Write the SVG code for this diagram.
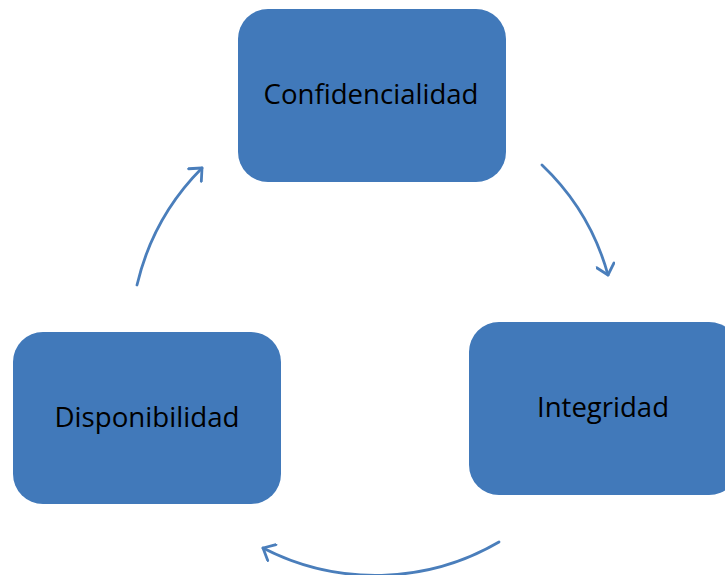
<svg xmlns="http://www.w3.org/2000/svg" width="725" height="575" viewBox="0 0 725 575">
  <style>
    .box { fill: #4179ba; }
    .label { font-family: "Open Sans", "Noto Sans", "Liberation Sans", sans-serif; font-size: 27.5px; fill: #000; text-anchor: middle; }
    .link { fill: none; stroke: #4a7ebb; stroke-width: 2.8; stroke-linecap: round; marker-end: url(#chev); }
  </style>
  <defs>
    <marker id="chev" viewBox="0 0 20 20" refX="16" refY="10" markerWidth="20" markerHeight="20" markerUnits="userSpaceOnUse" orient="auto">
      <path d="M6,1 L16,10 L6,19" fill="none" stroke="#4a7ebb" stroke-width="2.8" stroke-linecap="round" stroke-linejoin="round"/>
    </marker>
  </defs>
  <rect width="725" height="575" fill="#fff"/>

  <g id="confidencialidad">
    <rect class="box" x="238" y="9" width="268" height="173" rx="30"/>
    <text class="label" x="371" y="104" textLength="215" lengthAdjust="spacingAndGlyphs">Confidencialidad</text>
  </g>

  <g id="integridad">
    <rect class="box" x="469" y="322" width="270" height="173" rx="30"/>
    <text class="label" x="603" y="417" textLength="132" lengthAdjust="spacingAndGlyphs">Integridad</text>
  </g>

  <g id="disponibilidad">
    <rect class="box" x="13" y="332" width="268" height="172" rx="30"/>
    <text class="label" x="147" y="427" textLength="185" lengthAdjust="spacingAndGlyphs">Disponibilidad</text>
  </g>

  <g id="connectors">
    <path class="link" d="M542,165 A240,240 0 0 1 608,275"/>
    <path class="link" d="M499,542 A245,245 0 0 1 263,548"/>
    <path class="link" d="M137,285 A245,245 0 0 1 202,168"/>
  </g>
</svg>
